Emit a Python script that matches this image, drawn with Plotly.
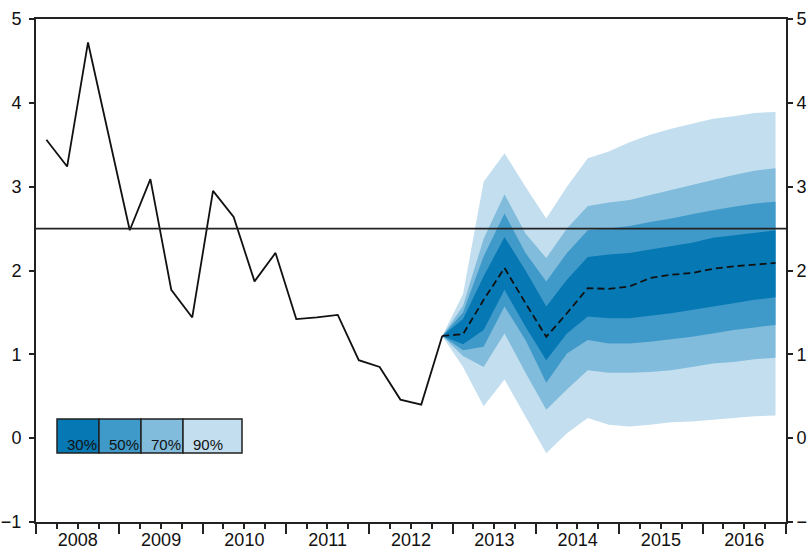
import pandas as pd
import plotly.graph_objects as go

# ---------------- data ----------------
quarters = [f"{y}Q{q}" for y in range(2008, 2017) for q in range(1, 5)]  # 2008Q1 .. 2016Q4

history = [3.56, 3.24, 4.72, 3.60, 2.48, 3.09, 1.77, 1.44, 2.95, 2.64,
           1.87, 2.21, 1.42, 1.44, 1.47, 0.93, 0.85, 0.46, 0.40, 1.22]  # 2008Q1-2012Q4

forecast_start = 19  # forecast begins at last observed quarter (2012Q4)
median = [1.22, 1.24, 1.65, 2.03, 1.61, 1.21, 1.49, 1.79, 1.78, 1.81,
          1.91, 1.95, 1.97, 2.02, 2.05, 2.07, 2.09]

upper90 = [1.22, 1.72, 3.06, 3.40, 3.00, 2.62, 3.00, 3.34, 3.42, 3.53, 3.62, 3.69, 3.75, 3.81, 3.84, 3.88, 3.89]
lower90 = [1.22, 0.85, 0.38, 0.70, 0.26, -0.18, 0.06, 0.24, 0.16, 0.14, 0.16, 0.19, 0.20, 0.22, 0.24, 0.26, 0.27]
upper70 = [1.22, 1.58, 2.38, 2.91, 2.44, 2.15, 2.50, 2.77, 2.81, 2.84, 2.90, 2.96, 3.02, 3.08, 3.14, 3.19, 3.22]
lower70 = [1.22, 0.98, 0.85, 1.25, 0.78, 0.34, 0.58, 0.81, 0.78, 0.78, 0.79, 0.81, 0.85, 0.89, 0.91, 0.94, 0.96]
upper50 = [1.22, 1.50, 2.17, 2.68, 2.21, 1.87, 2.21, 2.48, 2.50, 2.53, 2.58, 2.62, 2.67, 2.72, 2.76, 2.80, 2.82]
lower50 = [1.22, 1.05, 1.09, 1.57, 1.17, 0.66, 1.01, 1.17, 1.13, 1.13, 1.15, 1.18, 1.21, 1.25, 1.29, 1.32, 1.35]
upper30 = [1.22, 1.42, 1.93, 2.40, 2.00, 1.57, 1.89, 2.16, 2.19, 2.21, 2.25, 2.29, 2.33, 2.39, 2.42, 2.45, 2.48]
lower30 = [1.22, 1.12, 1.29, 1.77, 1.33, 0.93, 1.25, 1.45, 1.43, 1.43, 1.46, 1.49, 1.53, 1.57, 1.61, 1.65, 1.68]

target = 2.5
band_labels = ["30%", "50%", "70%", "90%"]
band_colors = ["#0678b4", "#409ac9", "#82bcdc", "#c3dfef"]

y_range = [-1, 5]
x_range = ["2008-01-01", "2017-01-01"]

# ---------------- helpers ----------------
def qmid(q):
    p = pd.Period(q, freq="Q")
    return p.start_time + (p.end_time - p.start_time) / 2

xq = [qmid(q) for q in quarters]
x_hist = xq[:len(history)]
x_fc = xq[forecast_start:forecast_start + len(median)]

fig = go.Figure()

bands = [(upper90, lower90, band_colors[3]),
         (upper70, lower70, band_colors[2]),
         (upper50, lower50, band_colors[1]),
         (upper30, lower30, band_colors[0])]
for up, lo, col in bands:
    fig.add_trace(go.Scatter(
        x=x_fc + x_fc[::-1], y=up + lo[::-1],
        fill="toself", fillcolor=col, mode="lines",
        line=dict(width=0, color=col), showlegend=False, hoverinfo="skip"))

fig.add_trace(go.Scatter(x=x_hist, y=history, mode="lines",
                         line=dict(color="#111111", width=1.8), showlegend=False))
fig.add_trace(go.Scatter(x=x_fc, y=median, mode="lines",
                         line=dict(color="#111111", width=1.8, dash="7px,4px"), showlegend=False))
# dummy trace so the overlay axes (right y axis, long year ticks) are drawn
fig.add_trace(go.Scatter(x=[x_hist[0]], y=[history[0]], xaxis="x2", yaxis="y2", mode="none",
                         showlegend=False, hoverinfo="skip"))

fig.add_hline(y=target, line=dict(color="#222222", width=1.8), layer="above")

# ---------------- geometry ----------------
W, H = 807, 547
ml, mr, mt, mb = 36, 21, 19, 25
pw, ph = W - ml - mr, H - mt - mb

def px_x(p):  # window pixel -> paper fraction
    return (p - ml) / pw

def px_y(p):
    return (H - mb - p) / ph

box_edges = [57, 99, 141, 183, 242]
box_top, box_bot = 419, 453
for i, lab in enumerate(band_labels):
    fig.add_shape(type="rect", xref="paper", yref="paper",
                  x0=px_x(box_edges[i]), x1=px_x(box_edges[i + 1]),
                  y0=px_y(box_bot), y1=px_y(box_top),
                  fillcolor=band_colors[i], line=dict(color="#222222", width=1.5), layer="above")
    fig.add_annotation(xref="paper", yref="paper",
                       x=px_x(box_edges[i] + 8), y=px_y(444),
                       text=lab, showarrow=False, xanchor="left", yanchor="middle",
                       font=dict(family="Liberation Sans, Arial", size=15, color="#111111"))

tick_font = dict(family="Liberation Sans, Arial", size=18, color="#111111")
axis_common = dict(range=y_range, dtick=1, ticks="outside", ticklen=5, tickwidth=1.5,
                   tickcolor="#222222", showline=True, linewidth=2, linecolor="#222222",
                   showgrid=False, zeroline=False, tickfont=tick_font)

fig.update_layout(
    width=W, height=H,
    margin=dict(l=ml, r=mr, t=mt, b=mb, autoexpand=False),
    paper_bgcolor="white", plot_bgcolor="white",
    showlegend=False,
    xaxis=dict(type="date", range=x_range, dtick="M12", tick0="2008-01-01",
               tickformat="%Y", ticklabelmode="period", ticklabelstandoff=-5,
               ticks="outside", ticklen=5, tickwidth=1.5, tickcolor="#222222",
               minor=dict(dtick="M3", ticks="outside", ticklen=5, tickwidth=1.5,
                          tickcolor="#222222", showgrid=False),
               showline=True, linewidth=2, linecolor="#222222", mirror=True,
               showgrid=False, zeroline=False, tickfont=tick_font, automargin=False),
    xaxis2=dict(type="date", overlaying="x", matches="x", anchor="y", side="bottom",
                dtick="M12", tick0="2008-01-01", ticks="outside", ticklen=11,
                tickwidth=1.5, tickcolor="#222222", showticklabels=False,
                showline=False, showgrid=False, zeroline=False, automargin=False),
    yaxis=dict(side="left", ticklabelstandoff=4, automargin=False, **axis_common),
    yaxis2=dict(side="right", overlaying="y", matches="y", anchor="x", ticklabelstandoff=0,
                automargin=False, **axis_common),
)

fig.write_html(
    "out.html",
    config={"displayModeBar": False},
    post_script="document.body.style.margin='0';"
                "document.body.style.overflow='hidden';"
                "document.documentElement.style.overflow='hidden';",
)
